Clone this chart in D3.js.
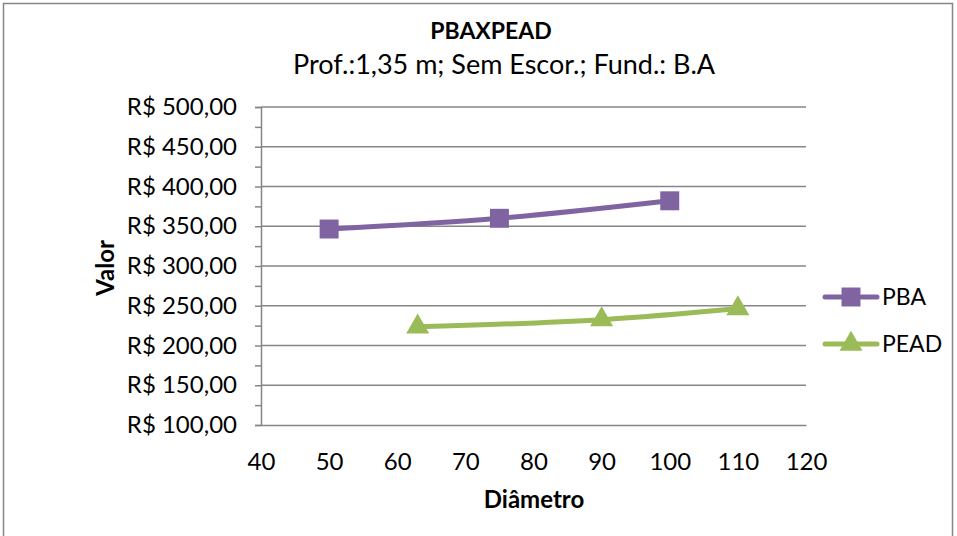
<!DOCTYPE html>
<html>
<head>
<meta charset="utf-8">
<script src="https://cdn.jsdelivr.net/npm/d3@7"></script>
<style>
  body { margin: 0; background: #fff; }
  svg, svg text { font-family: Lato, "Open Sans", sans-serif; }
</style>
</head>
<body>
<svg id="chart" width="957" height="536"></svg>
<script>
const pba_x = [50, 75, 100];
const pba_y = [346.5, 360, 382];
const pead_x = [63, 90, 110];
const pead_y = [223.5, 232.5, 246.5];
const y_ticks = [100, 150, 200, 250, 300, 350, 400, 450, 500];
const x_ticks = [40, 50, 60, 70, 80, 90, 100, 110, 120];

const svg = d3.select("#chart");
const fmt = v => "R$ " + d3.format(".2f")(v).replace(".", ",");
const FS = 24;

// outer frame
svg.append("rect").attr("x", 3.5).attr("y", 3.5).attr("width", 949).attr("height", 540)
    .attr("fill", "#fff").attr("stroke", "#868686").attr("stroke-width", 1.5);

const x = d3.scaleLinear().domain([40, 120]).range([261, 806]);
const y = d3.scaleLinear().domain([100, 500]).range([425, 107]);

// gridlines
svg.append("g").selectAll("line").data(y_ticks.slice(1)).enter().append("line")
    .attr("x1", 261).attr("x2", 806)
    .attr("y1", d => y(d)).attr("y2", d => y(d))
    .attr("stroke", "#868686").attr("stroke-width", 1.5);

// y axis with minor ticks
const yAxis = svg.append("g").attr("transform", "translate(261,0)")
    .call(d3.axisLeft(y).tickValues(d3.range(100, 501, 25)).tickSize(6).tickFormat(d => d % 50 === 0 ? fmt(d) : ""))
    .attr("font-family", null).attr("font-size", FS);
yAxis.select(".domain").attr("stroke", "#868686").attr("stroke-width", 1.5);
yAxis.selectAll(".tick line").attr("stroke", "#868686").attr("stroke-width", 1.5);
yAxis.selectAll(".tick text").attr("x", -24).attr("fill", "#000");

// x axis
const xAxis = svg.append("g").attr("transform", "translate(0,425)")
    .call(d3.axisBottom(x).tickValues(x_ticks).tickSize(0).tickPadding(0))
    .attr("font-family", null).attr("font-size", FS);
xAxis.select(".domain").attr("stroke", "#868686").attr("stroke-width", 1.5);
xAxis.selectAll(".tick text").attr("y", 45).attr("dy", 0).attr("fill", "#000");

const line = d3.line().x(d => x(d[0])).y(d => y(d[1])).curve(d3.curveCatmullRom.alpha(0.5));

const pba = pba_x.map((v, i) => [v, pba_y[i]]);
const pead = pead_x.map((v, i) => [v, pead_y[i]]);

svg.append("path").datum(pba).attr("d", line).attr("fill", "none")
    .attr("stroke", "#8064A2").attr("stroke-width", 5).attr("stroke-linecap", "round");
svg.append("path").datum(pead).attr("d", line).attr("fill", "none")
    .attr("stroke", "#9BBB59").attr("stroke-width", 5).attr("stroke-linecap", "round");

const sq = d3.symbol().type(d3.symbolSquare).size(360);
const tri = d3.symbol().type(d3.symbolTriangle).size(230);

svg.append("g").selectAll("path").data(pba).enter().append("path")
    .attr("d", sq).attr("transform", d => `translate(${x(d[0])},${y(d[1])})`)
    .attr("fill", "#8064A2");
svg.append("g").selectAll("path").data(pead).enter().append("path")
    .attr("d", tri).attr("transform", d => `translate(${x(d[0])},${y(d[1])})`)
    .attr("fill", "#9BBB59");

// legend
const legend = [["PBA", "#8064A2", sq, 297], ["PEAD", "#9BBB59", tri, 344]];
legend.forEach(([name, color, sym, ly]) => {
    svg.append("line").attr("x1", 825).attr("x2", 877).attr("y1", ly).attr("y2", ly)
        .attr("stroke", color).attr("stroke-width", 5).attr("stroke-linecap", "round");
    svg.append("path").attr("d", sym).attr("transform", `translate(851,${ly})`).attr("fill", color);
    svg.append("text").attr("x", 882).attr("y", ly + 8).attr("font-size", 23).text(name);
});

// titles
svg.append("text").attr("x", 491).attr("y", 39).attr("text-anchor", "middle")
    .attr("font-size", 23).attr("font-weight", "bold").text("PBAXPEAD");
svg.append("text").attr("x", 504).attr("y", 74).attr("text-anchor", "middle")
    .attr("font-size", 27).text("Prof.:1,35 m; Sem Escor.; Fund.: B.A");
svg.append("text").attr("transform", "translate(114,268) rotate(-90)").attr("text-anchor", "middle")
    .attr("font-size", 24).attr("font-weight", "bold").text("Valor");
svg.append("text").attr("x", 534).attr("y", 508).attr("text-anchor", "middle")
    .attr("font-size", 24).attr("font-weight", "bold").text("Diâmetro");
</script>
</body>
</html>
